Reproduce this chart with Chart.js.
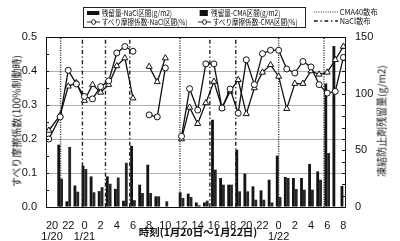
<!DOCTYPE html>
<html>
<head>
<meta charset="utf-8">
<script src="https://cdn.jsdelivr.net/npm/chart.js@4"></script>
<style>
  body { margin: 0; background: #fff; }
  #wrap { position: relative; width: 400px; height: 241px; font-family: "Noto Sans CJK JP", sans-serif; color: #111; }
  #chart { position: absolute; left: 0; top: 0; }
  .abs { position: absolute; white-space: nowrap; }
  #legendBox { position: absolute; left: 83px; top: 7px; width: 221px; height: 19px; border: 1px solid #222; }
  .lg { position: absolute; font-size: 8px; line-height: 9px; white-space: nowrap; display: flex; align-items: center;
        transform: scaleX(0.82); transform-origin: left center; }
  .lg.side { transform: scaleX(0.92); }
  .lg svg { margin-right: 2px; }
  .rot { transform: translate(-50%, -50%) rotate(-90deg); }
</style>
</head>
<body>
<div id="wrap">
  <canvas id="chart" width="400" height="241"></canvas>

  <div id="legendBox">
    <div class="lg" style="left:3px; top:0px;">
      <svg width="16" height="8"><rect x="0" y="2" width="15" height="4" fill="#111"/></svg>残留量-NaCl区間(g/m2)
    </div>
    <div class="lg" style="left:114px; top:0px;">
      <svg width="14" height="8"><rect x="2" y="1" width="10" height="6" fill="#111"/></svg>残留量-CMA区間(g/m2)
    </div>
    <div class="lg" style="left:3px; top:9px;">
      <svg width="16" height="8"><line x1="0" y1="4" x2="16" y2="4" stroke="#111" stroke-width="1"/><circle cx="8" cy="4" r="2.4" fill="#fff" stroke="#111"/></svg>すべり摩擦係数-NaCl区間(%)
    </div>
    <div class="lg" style="left:114px; top:9px;">
      <svg width="16" height="8"><line x1="0" y1="4" x2="16" y2="4" stroke="#111" stroke-width="1"/><circle cx="8" cy="4" r="2.4" fill="#fff" stroke="#111"/></svg>すべり摩擦係数-CMA区間(%)
    </div>
  </div>
  <div class="lg side" style="left:314px; top:7px;">
    <svg width="26" height="8"><line x1="0" y1="4" x2="26" y2="4" stroke="#111" stroke-width="1" stroke-dasharray="1 1.5"/></svg>CMA40散布
  </div>
  <div class="lg side" style="left:314px; top:16px;">
    <svg width="26" height="8"><line x1="0" y1="4" x2="26" y2="4" stroke="#111" stroke-width="1.3" stroke-dasharray="4 3 1.5 3"/></svg>NaCl散布
  </div>

  <div class="abs rot" style="left:16px; top:121px; font-size:10px;">すべり摩擦係数(100%制動時)</div>
  <div class="abs rot" style="left:381px; top:121px; font-size:10px;">凍結防止剤残留量(g/m2)</div>
  <div class="abs" style="left:198px; top:231px; transform: translate(-50%, -50%); font-size:10.5px; font-weight:bold;">時刻(1月20日～1月22日)</div>
</div>

<script>
// ─────────────────────────────────────────────
//  Data  (hour 0 = 1/20 0:00)
// ─────────────────────────────────────────────
const lineHours = [19.6, 21, 22, 23, 24, 25, 26, 27, 28, 29, 30, 31, 32, 33, 34, 35,
                   36, 37, 38, 39, 40, 41, 42, 43, 44, 45, 46, 47, 48, 49, 50, 51,
                   52, 53, 54, 55, 56];

// すべり摩擦係数 (circles)
const frictionNaCl = [0.200, 0.265, 0.402, 0.362, 0.325, 0.318, 0.354, 0.371, 0.453, 0.472, 0.458, null,
                      0.271, 0.265, 0.409, null,
                      0.208, 0.348, 0.285, 0.421, 0.421, 0.291, 0.347, 0.276, 0.433, 0.360, 0.451, 0.461,
                      0.461, 0.406, 0.394, 0.428, 0.412, 0.360, 0.335, 0.340, 0.440];

// すべり摩擦係数 (triangles)
const frictionCMA  = [0.225, 0.270, 0.355, 0.365, 0.313, 0.360, 0.337, 0.360, 0.415, 0.438, 0.320, null,
                      0.413, 0.368, 0.438, null,
                      0.200, 0.293, 0.245, 0.306, 0.369, 0.291, 0.340, 0.374, 0.274, 0.350, 0.396, 0.418,
                      0.384, 0.289, 0.363, 0.363, 0.400, 0.390, 0.396, 0.433, 0.472];

const barHours = [21, 22, 23, 24, 25, 26, 27, 28, 29, 30, 31, 32, 33, 34, 35, 36, 37, 38,
                  39, 40, 41, 42, 43, 44, 45, 46, 47, 48, 49, 50, 51, 52, 53, 54, 55, 56];

// 残留量 (g/m2)
const residualNaCl = [55, 5, 19, 36.5, 27, 14, 27, 16, 5.5, 54, 19.7, 37.3, 9.4, 0, 0, 12.9, 11.8, 4,
                      4, 77, 25.6, 19.7, 50.6, 29.5, 18.2, 14.7, 24.1, 45.3, 26.5, 25.6, 25.6, 38, 31.4, 109, 142, 18.5];
const residualCMA  = [25, 53, 13.5, 33.5, 13, 17.5, 20.5, 26, 39, 6, 12.3, 12.3, 9.4, 5, 0, 8, 8.8, 1.5,
                      5.6, 33, 19.7, 19.7, 13.8, 13.8, 6.4, 6.4, 4, 8.8, 25.6, 15.9, 15.3, 15.3, 24.1, 47.6, 0, 0];

// 散布時刻
const cmaSpreadHours  = [21.05, 35.8, 48.0, 53.6];
const naclSpreadHours = [23.75, 26.6, 29.6, 39.5, 42.7];

// x ticks
const tickHours      = [20, 22, 24, 26, 28, 30, 32, 34, 36, 38, 40, 42, 44, 46, 48, 50, 52, 54, 56];
const dateTickHours  = [20, 24, 48];
const dateTickLabels = ["1/20", "1/21", "1/22"];

// ─────────────────────────────────────────────
//  Datasets
// ─────────────────────────────────────────────
const pts = (xs, ys) => xs.map((x, i) => ({ x, y: ys[i] }));

const spreadLine = (h, dash, width) => ({
  type: "line",
  data: [{ x: h, y: 0 }, { x: h, y: 0.5 }],
  yAxisID: "y",
  borderColor: "#222",
  borderWidth: width,
  borderDash: dash,
  pointRadius: 0,
  order: 2,
});

const barStyle = {
  type: "bar",
  yAxisID: "y2",
  categoryPercentage: 0.7,
  barPercentage: 1.0,
  order: 3,
};

const datasets = [
  { ...barStyle, label: "残留量-NaCl区間(g/m2)", data: pts(barHours, residualNaCl), backgroundColor: "#141414" },
  { ...barStyle, label: "残留量-CMA区間(g/m2)",  data: pts(barHours, residualCMA),  backgroundColor: "#262626" },
  ...cmaSpreadHours.map((h) => spreadLine(h, [1, 1.4], 1.4)),
  ...naclSpreadHours.map((h) => spreadLine(h, [4, 2.5, 1.2, 2.5], 1.4)),
  {
    type: "line",
    label: "すべり摩擦係数-NaCl区間(%)",
    data: pts(lineHours, frictionNaCl),
    yAxisID: "y",
    borderColor: "#111",
    borderWidth: 1.3,
    pointStyle: "circle",
    pointRadius: 3,
    pointBackgroundColor: "#fff",
    pointBorderColor: "#111",
    pointBorderWidth: 1,
    spanGaps: false,
    order: 1,
  },
  {
    type: "line",
    label: "すべり摩擦係数-CMA区間(%)",
    data: pts(lineHours, frictionCMA),
    yAxisID: "y",
    borderColor: "#111",
    borderWidth: 1.3,
    pointStyle: "triangle",
    pointRadius: 3.5,
    pointBackgroundColor: "#fff",
    pointBorderColor: "#111",
    pointBorderWidth: 1,
    spanGaps: false,
    order: 1,
  },
];

// frame around plot area + small inner ticks on both y axes
const framePlugin = {
  id: "frame",
  afterDraw(chart) {
    const { ctx, chartArea: a, scales } = chart;
    ctx.save();
    ctx.strokeStyle = "#111";
    ctx.lineWidth = 1;
    ctx.strokeRect(Math.round(a.left) + 0.5, Math.round(a.top) + 0.5,
                   Math.round(a.right - a.left), Math.round(a.bottom - a.top));
    ctx.beginPath();
    for (let v = 0.05; v < 0.5; v += 0.05) {
      const y = Math.round(scales.y.getPixelForValue(v)) + 0.5;
      ctx.moveTo(a.left, y); ctx.lineTo(a.left + 3, y);
    }
    for (let v = 10; v < 150; v += 10) {
      const y = Math.round(scales.y2.getPixelForValue(v)) + 0.5;
      ctx.moveTo(a.right, y); ctx.lineTo(a.right - 3, y);
    }
    ctx.stroke();
    ctx.restore();
  },
};

Chart.defaults.font.family = "'Liberation Sans', Arial, sans-serif";
Chart.defaults.color = "#111";

new Chart(document.getElementById("chart"), {
  type: "bar",
  data: { datasets },
  plugins: [framePlugin],
  options: {
    responsive: false,
    animation: false,
    devicePixelRatio: 1,
    layout: { padding: { top: 37, left: 0, right: 0, bottom: 0 } },
    plugins: { legend: { display: false }, tooltip: { enabled: false } },
    scales: {
      x: {
        type: "linear",
        min: 19.25,
        max: 56.2,
        offset: false,
        grid: { display: false },
        border: { color: "#111" },
        afterBuildTicks: (s) => { s.ticks = tickHours.map((v) => ({ value: v })); },
        afterFit: (s) => { s.height = 34; },
        ticks: {
          padding: 5,
          autoSkip: false,
          maxRotation: 0,
          font: { size: 11, lineHeight: 1.0 },
          callback: (v) => {
            const i = dateTickHours.indexOf(v);
            const lbl = String(v % 24);
            return i >= 0 ? [lbl, dateTickLabels[i]] : lbl;
          },
        },
      },
      y: {
        position: "left",
        min: 0,
        max: 0.5,
        afterFit: (s) => { s.width = 46; },
        grid: { color: "#9a9a9a", lineWidth: 0.8, drawTicks: false },
        border: { color: "#111" },
        ticks: { stepSize: 0.1, padding: 9, font: { size: 11 }, callback: (v) => v.toFixed(1) },
      },
      y2: {
        position: "right",
        min: 0,
        max: 150,
        afterFit: (s) => { s.width = 55; },
        grid: { drawOnChartArea: false, drawTicks: false },
        border: { color: "#111" },
        ticks: { stepSize: 50, padding: 10, font: { size: 11 } },
      },
    },
  },
});
</script>
</body>
</html>
